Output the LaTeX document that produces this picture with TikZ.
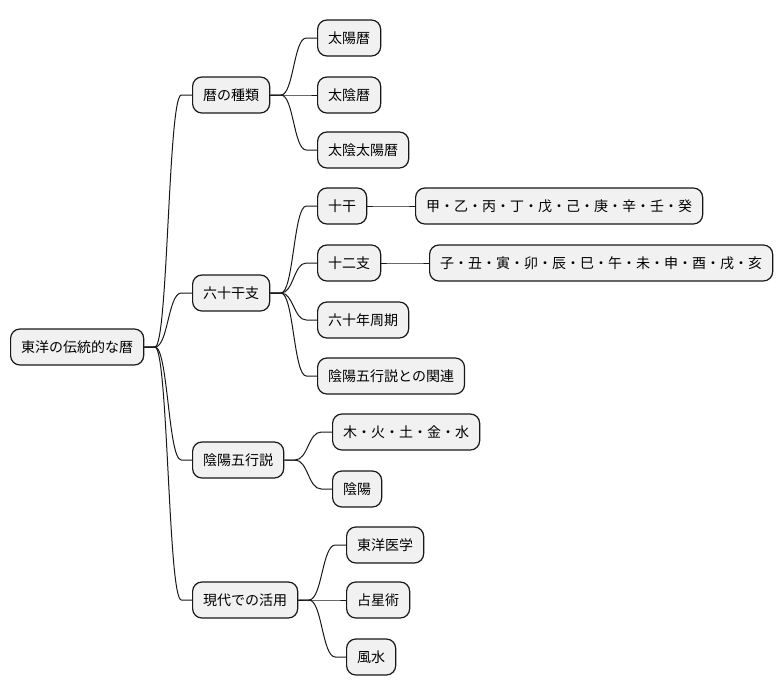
\documentclass[tikz,border=0pt]{standalone}
\usepackage{fontspec}
\setmainfont{Noto Sans CJK JP}
\usetikzlibrary{calc}
\definecolor{boxfill}{HTML}{F1F1F1}
\definecolor{boxline}{HTML}{181818}
\tikzset{
  mm/.style={draw=boxline, fill=boxfill, line width=0.9pt, rounded corners=7pt,
    anchor=west, inner xsep=7.9pt, inner ysep=0pt, minimum height=27pt,
    font=\fontsize{10.5pt}{12pt}\selectfont},
  branch/.style={draw=boxline, line width=0.75pt,
    to path={let \p1=(\tikztostart), \p2=(\tikztotarget), \n1={(\x1+\x2)/2} in
      -- (\x1+8pt,\y1) .. controls (\n1,\y1) and (\n1,\y2) .. (\x2-8pt,\y2) -- (\tikztotarget)}}
}
\begin{document}
\begin{tikzpicture}[x=0.75pt,y=-0.75pt]
\useasboundingbox (0,0) rectangle (782,696);
\node[mm] (root) at (10,347) {東洋の伝統的な暦};
\node[mm] (a) at (192,95) {暦の種類};
\node[mm] (b) at (192,293) {六十干支};
\node[mm] (c) at (192,460) {陰陽五行説};
\node[mm] (d) at (192,600) {現代での活用};
\node[mm] (a1) at (317,38) {太陽暦};
\node[mm] (a2) at (317,95) {太陰暦};
\node[mm] (a3) at (317,150) {太陰太陽暦};
\node[mm] (b1) at (317,206) {十干};
\node[mm] (b1x) at (415,206) {甲・乙・丙・丁・戊・己・庚・辛・壬・癸};
\node[mm] (b2) at (317,263) {十二支};
\node[mm] (b2x) at (429,263) {子・丑・寅・卯・辰・巳・午・未・申・酉・戌・亥};
\node[mm] (b3) at (317,320) {六十年周期};
\node[mm] (b4) at (317,376) {陰陽五行説との関連};
\node[mm] (c1) at (332,432) {木・火・土・金・水};
\node[mm] (c2) at (332,489) {陰陽};
\node[mm] (d1) at (346,545) {東洋医学};
\node[mm] (d2) at (346,600) {占星術};
\node[mm] (d3) at (346,657) {風水};
\foreach \p/\c in {root/a,root/b,root/c,root/d,a/a1,a/a2,a/a3,b/b1,b/b2,b/b3,b/b4,b1/b1x,b2/b2x,c/c1,c/c2,d/d1,d/d2,d/d3}
  \draw[branch] (\p.east) to (\c.west);
\end{tikzpicture}
\end{document}
